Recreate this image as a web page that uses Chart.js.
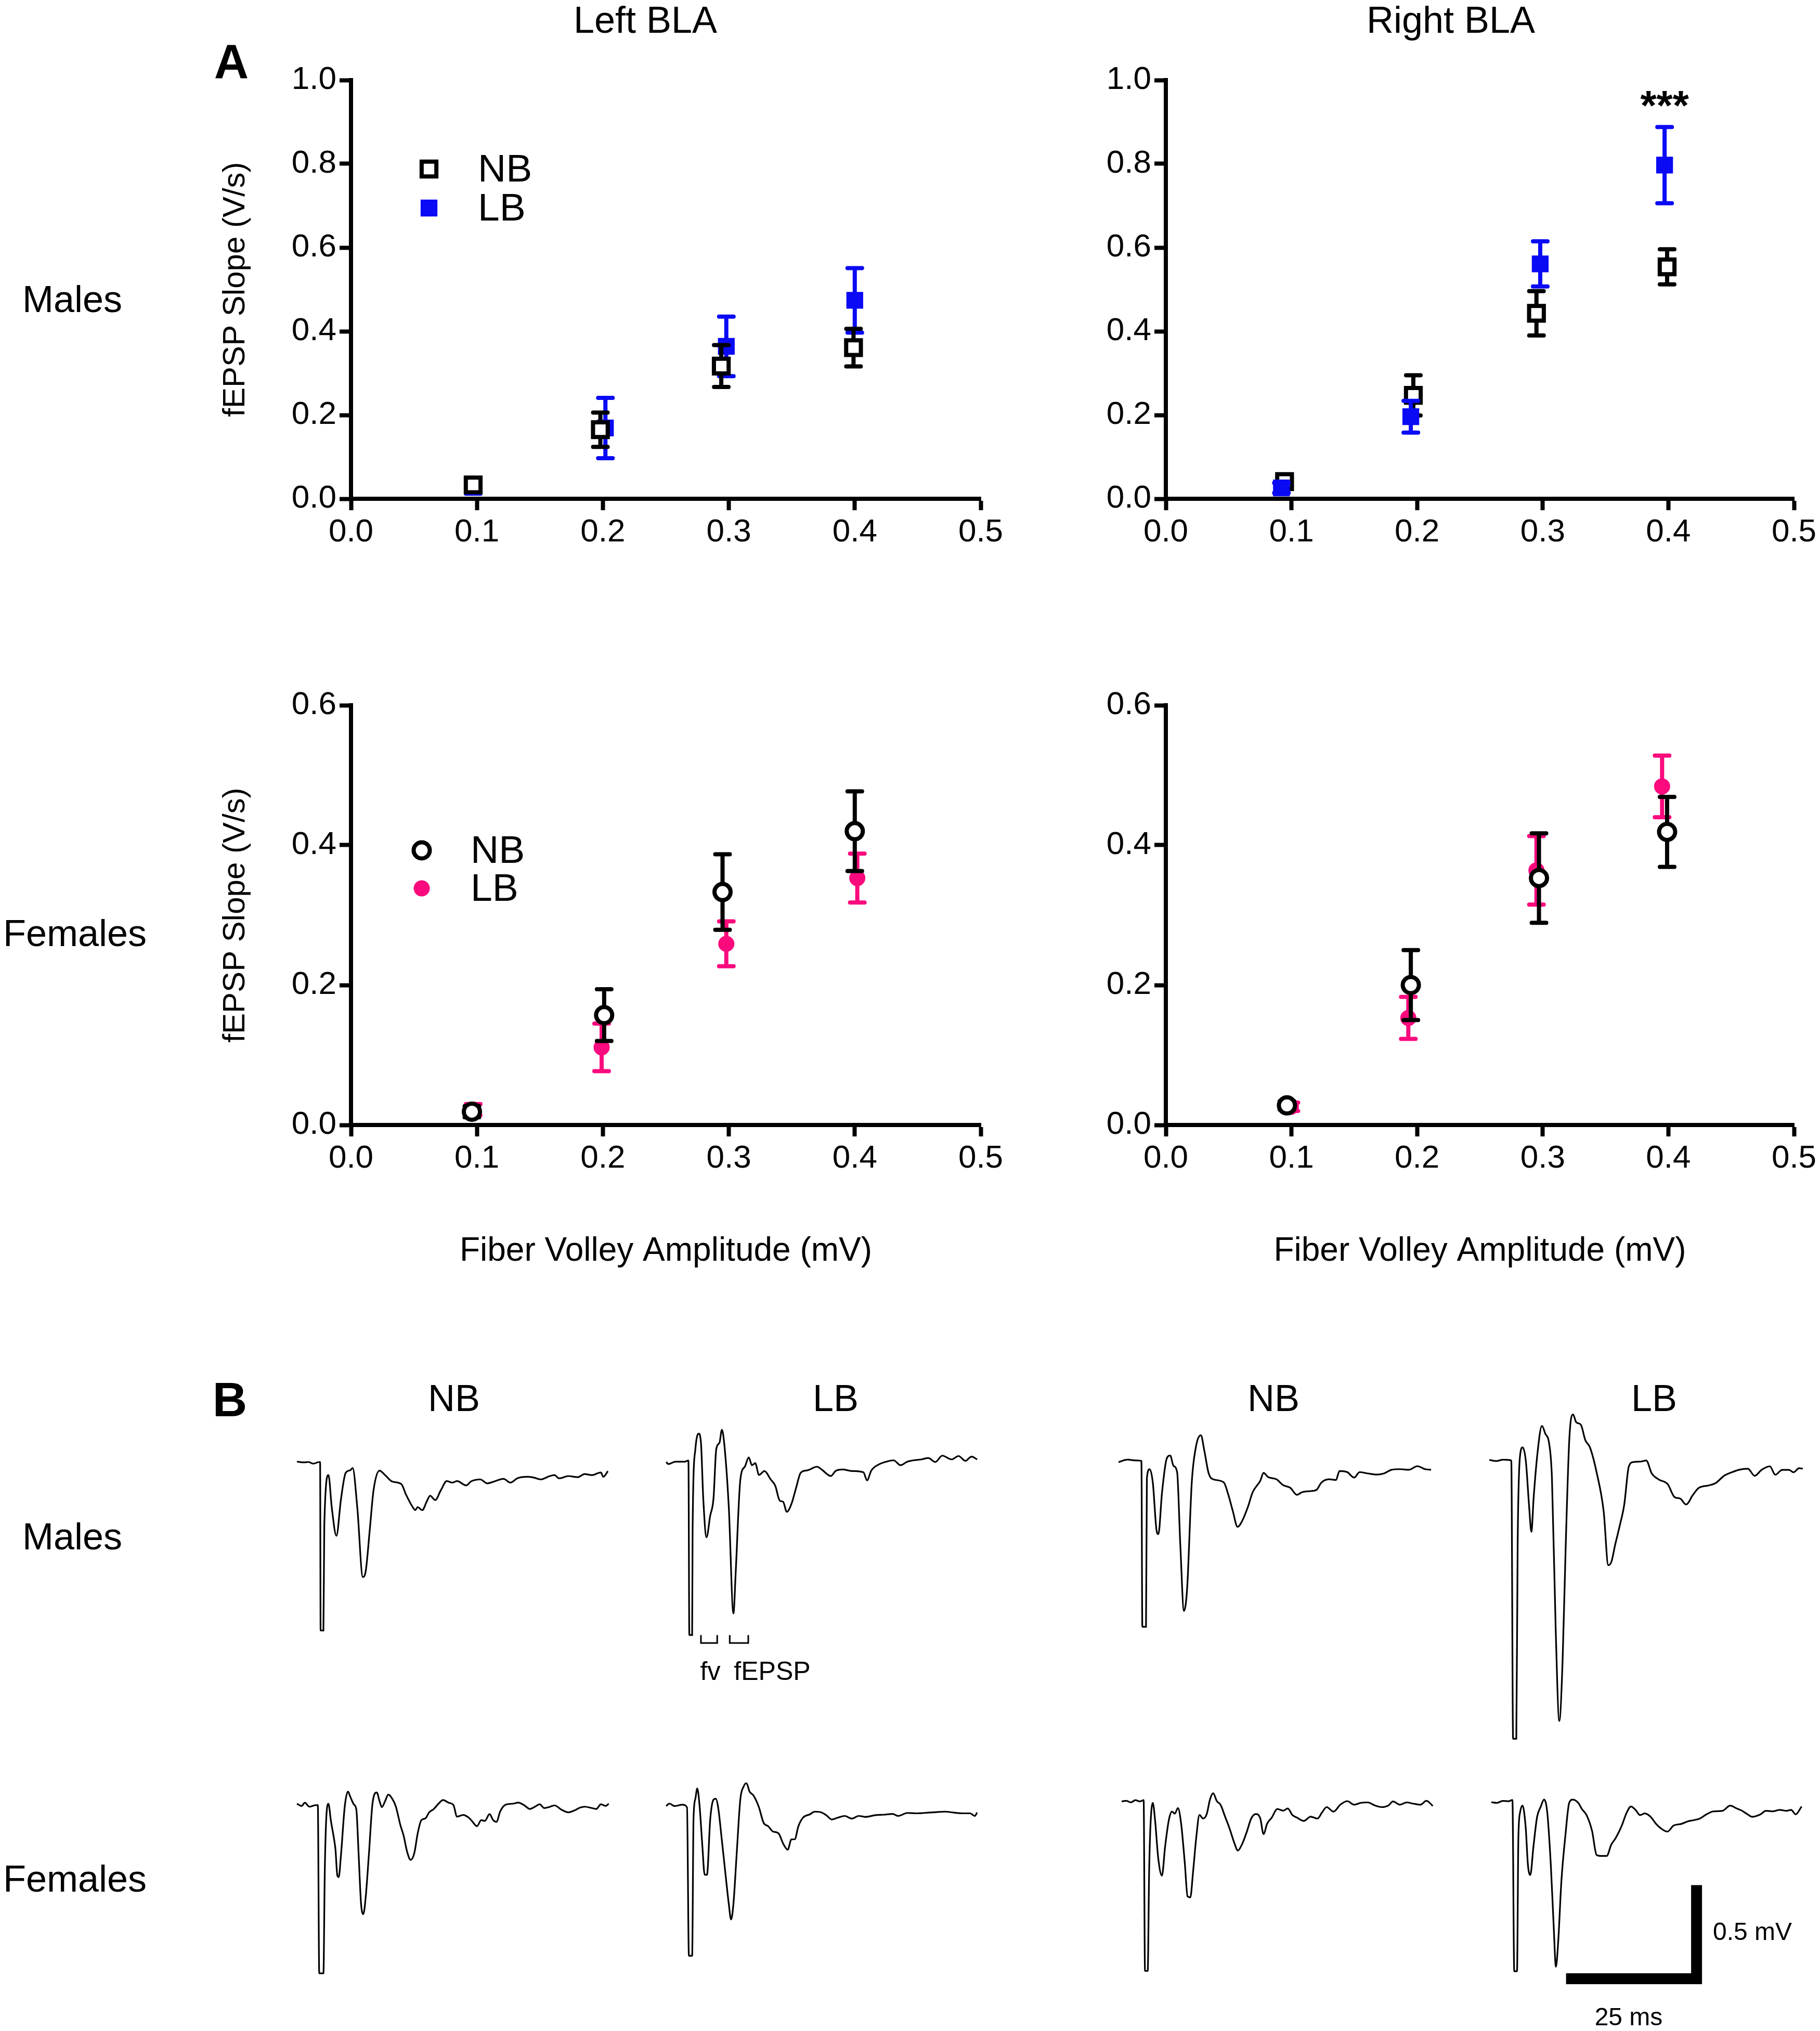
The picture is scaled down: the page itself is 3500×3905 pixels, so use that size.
<!DOCTYPE html>
<html>
<head>
<meta charset="utf-8"/>
<script src="https://cdn.jsdelivr.net/npm/chart.js@4.4.0/dist/chart.umd.min.js"></script>
<style>
  html,body{margin:0;padding:0;background:#fff;width:3500px;height:3905px;overflow:hidden;position:relative;}
  canvas{position:absolute;}
  .lbl{position:absolute;transform:translate(-50%,-50%);white-space:nowrap;color:#000;line-height:1;
       font-family:"Liberation Sans",Arial,Helvetica,sans-serif;}
</style>
</head>
<body>
<script>
const FONT  = '"Liberation Sans", Arial, Helvetica, sans-serif';
const BLUE  = '#0A0AF5';
const PINK  = '#FA0A7D';
const BLACK = '#000';

// ---- panel A : axes ----
const xTickValues   = [0, 0.1, 0.2, 0.3, 0.4, 0.5];
const yTicksMales   = [0, 0.2, 0.4, 0.6, 0.8, 1.0];
const yTicksFemales = [0, 0.2, 0.4, 0.6];

// ---- panel A : Males, Left BLA ----
const maleLeftNB_x   = [0.097, 0.198, 0.294, 0.399];
const maleLeftNB_y   = [0.033, 0.165, 0.317, 0.361];
const maleLeftNB_sem = [0.008, 0.041, 0.050, 0.045];
const maleLeftLB_x   = [0.097, 0.202, 0.298, 0.400];
const maleLeftLB_y   = [0.028, 0.169, 0.364, 0.474];
const maleLeftLB_sem = [0.016, 0.072, 0.071, 0.077];

// ---- Males, Right BLA ----
const maleRightNB_x   = [0.0945, 0.197, 0.295, 0.399];
const maleRightNB_y   = [0.041, 0.247, 0.443, 0.554];
const maleRightNB_sem = [0.010, 0.048, 0.053, 0.042];
const maleRightLB_x   = [0.092, 0.195, 0.298, 0.397];
const maleRightLB_y   = [0.026, 0.196, 0.561, 0.797];
const maleRightLB_sem = [0.012, 0.038, 0.054, 0.091];
const maleRightSig    = [{x: 0.397, y: 0.905, text: '***'}];

// ---- Females, Left BLA ----
const femLeftNB_x   = [0.096, 0.201, 0.295, 0.400];
const femLeftNB_y   = [0.019, 0.157, 0.333, 0.420];
const femLeftNB_sem = [0.008, 0.037, 0.054, 0.057];
const femLeftLB_x   = [0.097, 0.199, 0.298, 0.402];
const femLeftLB_y   = [0.022, 0.111, 0.259, 0.353];
const femLeftLB_sem = [0.008, 0.034, 0.032, 0.035];

// ---- Females, Right BLA ----
const femRightNB_x   = [0.0964, 0.195, 0.297, 0.399];
const femRightNB_y   = [0.028, 0.200, 0.353, 0.419];
const femRightNB_sem = [0.006, 0.050, 0.064, 0.050];
const femRightLB_x   = [0.0995, 0.193, 0.295, 0.395];
const femRightLB_y   = [0.026, 0.153, 0.364, 0.484];
const femRightLB_sem = [0.006, 0.030, 0.049, 0.044];

// ---- panel B : example traces, [ms, mV] relative to baseline ----
const traceMaleLeftNB = [[0,0.002],[1.33,-0.002],[2.22,0],[3.11,-0.009],[4.27,0],[4.44,0],[4.53,-0.9],[5.07,-0.9],[5.24,-0.336],[6.04,-0.07],[6.67,-0.243],[7.56,-0.394],[8.44,-0.197],[9.33,-0.058],[10.22,-0.044],[10.67,-0.032],[11.56,-0.243],[12.62,-0.614],[13.16,-0.585],[13.96,-0.359],[14.67,-0.151],[15.82,-0.046],[16.89,-0.07],[18.22,-0.104],[20.0,-0.118],[20.89,-0.174],[22.22,-0.243],[22.67,-0.257],[23.11,-0.241],[24.0,-0.257],[24.89,-0.209],[25.51,-0.18],[26.49,-0.203],[27.56,-0.151],[28.71,-0.102],[29.78,-0.11],[30.67,-0.102],[32.44,-0.125],[33.33,-0.104],[35.11,-0.093],[36.44,-0.114],[37.78,-0.104],[39.56,-0.09],[40.89,-0.11],[42.22,-0.087],[44.0,-0.079],[45.33,-0.083],[46.67,-0.093],[48.44,-0.075],[49.33,-0.07],[50.22,-0.087],[52.0,-0.075],[53.78,-0.081],[55.11,-0.064],[56.44,-0.07],[58.22,-0.056],[58.67,-0.079],[59.56,-0.049]];
const traceMaleLeftLB = [[0,0],[0.44,-0.011],[1.78,0.002],[3.56,0.002],[4.27,0.008],[4.44,-0.924],[4.98,-0.924],[5.07,-0.356],[5.6,0.069],[6.22,0.152],[6.67,0.103],[7.11,-0.195],[7.73,-0.402],[8.44,-0.287],[9.07,-0.195],[9.6,0.069],[10.22,0.103],[10.67,0.172],[11.11,0.103],[12.0,-0.241],[12.89,-0.809],[13.33,-0.586],[14.22,-0.092],[15.11,-0.023],[15.82,0.025],[16.44,-0.017],[17.07,-0.006],[17.78,-0.069],[18.84,-0.048],[20.0,-0.092],[20.89,-0.126],[21.78,-0.207],[22.4,-0.212],[23.11,-0.266],[24.0,-0.224],[24.89,-0.138],[25.78,-0.057],[27.11,-0.044],[28.89,-0.025],[29.78,-0.04],[31.56,-0.075],[32.44,-0.048],[33.78,-0.04],[35.56,-0.048],[37.78,-0.055],[38.49,-0.098],[39.29,-0.046],[40.89,-0.011],[42.22,0.002],[43.56,0.009],[44.89,-0.017],[46.22,0.002],[48.89,0.014],[50.22,0.021],[51.56,0],[52.89,0.034],[54.67,0.014],[56.0,0.032],[57.33,0.006],[58.49,0.029],[59.56,0.014]];
const traceMaleRightNB = [[0,-0.003],[1.75,0.01],[3.07,0.006],[4.38,0.003],[4.56,-0.883],[5.26,-0.883],[5.43,-0.089],[5.96,-0.041],[6.57,-0.114],[7.28,-0.368],[7.63,-0.388],[8.33,-0.165],[9.2,0.013],[9.9,0.032],[10.52,-0.023],[11.22,-0.057],[11.83,-0.445],[12.53,-0.798],[13.15,-0.673],[14.02,-0.114],[14.9,0.089],[15.78,0.14],[16.39,0.064],[17.27,-0.064],[18.14,-0.095],[20.16,-0.112],[21.03,-0.178],[21.91,-0.267],[22.79,-0.349],[23.67,-0.318],[24.8,-0.241],[25.68,-0.165],[27.17,-0.102],[27.78,-0.061],[28.65,-0.083],[30.24,-0.095],[31.56,-0.127],[32.87,-0.14],[34.18,-0.178],[35.06,-0.165],[36.38,-0.159],[37.9,-0.152],[38.82,-0.114],[40.32,-0.095],[41.63,-0.099],[42.33,-0.051],[43.82,-0.057],[45.13,-0.086],[46.18,-0.057],[47.77,-0.064],[49.52,-0.07],[50.83,-0.064],[52.32,-0.044],[53.9,-0.041],[55.65,-0.044],[57.23,-0.025],[58.72,-0.041],[59.86,-0.044]];
const traceMaleRightLB = [[0,0],[1.31,-0.006],[2.63,0.001],[4.21,-0.003],[4.56,-1.489],[5.17,-1.489],[5.43,-0.454],[5.87,0.017],[6.4,0.067],[7.01,-0.009],[7.63,-0.25],[8.06,-0.384],[8.5,-0.199],[9.2,0.029],[10.08,0.182],[10.78,0.137],[11.39,0.099],[12.0,-0.098],[12.71,-0.898],[13.41,-1.394],[14.02,-1.089],[14.64,-0.454],[15.34,0.118],[16.04,0.243],[16.65,0.201],[17.53,0.188],[18.4,0.105],[19.28,0.067],[20.6,-0.072],[21.91,-0.276],[22.79,-0.562],[23.4,-0.543],[24.1,-0.454],[24.98,-0.352],[25.85,-0.238],[26.73,-0.034],[27.61,-0.011],[28.92,-0.009],[30.06,-0.003],[31.11,-0.072],[32.43,-0.104],[34.18,-0.13],[35.5,-0.199],[36.55,-0.206],[37.69,-0.238],[39.0,-0.187],[40.14,-0.149],[42.07,-0.136],[43.38,-0.123],[44.96,-0.085],[46.46,-0.066],[47.77,-0.053],[49.52,-0.047],[50.83,-0.085],[52.15,-0.053],[53.73,-0.034],[54.78,-0.079],[56.1,-0.053],[57.41,-0.053],[58.28,-0.066],[59.34,-0.044],[60.04,-0.047]];
const traceFemLeftNB = [[0,0],[0.89,-0.012],[1.51,0.005],[2.4,-0.016],[3.29,-0.009],[4.0,-0.007],[4.27,-0.906],[5.07,-0.906],[5.33,-0.364],[5.6,-0.088],[6.04,0],[6.49,-0.088],[7.11,-0.189],[7.38,-0.244],[7.73,-0.382],[8.0,-0.392],[8.44,-0.272],[9.16,-0.014],[9.78,0.065],[10.22,0.037],[10.93,-0.005],[11.38,-0.032],[11.82,-0.272],[12.27,-0.53],[12.71,-0.59],[13.16,-0.502],[13.78,-0.272],[14.49,0.005],[15.29,0.06],[15.82,0.014],[16.27,-0.018],[16.89,0.014],[17.51,0.049],[18.22,0.028],[18.93,-0.014],[19.82,-0.115],[20.44,-0.171],[21.07,-0.253],[21.78,-0.3],[22.49,-0.263],[23.11,-0.161],[23.82,-0.088],[24.62,-0.078],[25.33,-0.046],[26.22,-0.028],[27.11,0],[28.0,0.02],[29.07,0.005],[29.96,-0.006],[30.67,-0.069],[31.82,-0.06],[32.89,-0.074],[33.51,-0.092],[34.49,-0.12],[35.29,-0.088],[36.0,-0.092],[36.89,-0.055],[37.6,-0.088],[38.22,-0.097],[38.93,-0.041],[40.0,-0.005],[41.33,0],[42.4,0.006],[43.56,-0.009],[44.62,-0.028],[45.6,-0.016],[46.49,-0.003],[47.38,-0.023],[48.27,-0.018],[49.33,-0.009],[50.67,-0.032],[52.0,-0.046],[53.07,-0.037],[54.22,-0.021],[55.11,-0.016],[56.44,-0.023],[57.33,-0.028],[58.22,-0.003],[59.11,-0.012],[59.73,0]];
const traceFemLeftLB = [[0,-0.004],[0.62,0.009],[1.6,-0.004],[3.11,0.003],[4.0,-0.011],[4.36,-0.804],[4.98,-0.804],[5.24,-0.076],[5.6,0.035],[5.96,0.09],[6.4,-0.002],[6.93,-0.214],[7.38,-0.371],[7.82,-0.371],[8.44,-0.076],[9.07,0.03],[9.51,0.035],[9.96,-0.011],[10.67,-0.186],[11.38,-0.371],[12.0,-0.527],[12.44,-0.61],[12.89,-0.527],[13.51,-0.26],[14.22,0.035],[14.84,0.1],[15.38,0.118],[16.0,0.072],[16.71,0.053],[17.78,-0.011],[18.67,-0.094],[19.56,-0.112],[20.44,-0.14],[21.51,-0.149],[22.4,-0.204],[23.29,-0.237],[24.0,-0.182],[24.62,-0.182],[25.33,-0.112],[26.22,-0.066],[27.56,-0.048],[28.44,-0.034],[29.6,-0.037],[30.67,-0.053],[31.73,-0.076],[32.89,-0.066],[34.22,-0.057],[35.56,-0.071],[36.89,-0.057],[38.22,-0.062],[40.0,-0.053],[41.78,-0.05],[43.38,-0.046],[44.44,-0.057],[46.22,-0.041],[48.0,-0.043],[49.33,-0.041],[51.56,-0.037],[53.33,-0.034],[55.11,-0.039],[56.89,-0.043],[58.22,-0.043],[59.11,-0.057],[59.56,-0.039]];
const traceFemRightNB = [[0,-0.002],[0.88,0.002],[1.75,-0.007],[2.63,0.005],[3.51,-0.002],[4.21,0.005],[4.47,-0.907],[4.99,-0.907],[5.26,-0.38],[5.52,-0.13],[5.96,-0.009],[6.4,-0.102],[7.01,-0.306],[7.71,-0.398],[8.33,-0.241],[9.03,-0.102],[9.64,-0.056],[10.17,-0.067],[10.78,-0.037],[11.39,-0.12],[12.1,-0.333],[12.62,-0.509],[13.15,-0.514],[13.67,-0.38],[14.29,-0.194],[14.9,-0.074],[15.6,-0.093],[16.3,-0.069],[16.92,0.009],[17.53,0.042],[18.23,0],[18.93,-0.019],[19.81,-0.083],[20.69,-0.148],[21.56,-0.222],[22.26,-0.264],[23.05,-0.231],[23.93,-0.167],[24.81,-0.093],[25.69,-0.069],[26.56,-0.093],[27.17,-0.176],[27.87,-0.12],[28.75,-0.088],[29.8,-0.042],[30.94,-0.051],[31.82,-0.039],[32.69,-0.074],[33.57,-0.088],[34.88,-0.106],[36.2,-0.083],[37.51,-0.093],[38.39,-0.06],[39.26,-0.032],[40.58,-0.056],[41.89,-0.019],[43.21,0],[44.53,-0.019],[45.84,-0.009],[47.15,-0.007],[48.47,-0.023],[49.78,-0.032],[51.1,-0.023],[51.97,-0.002],[53.29,-0.019],[54.6,-0.007],[55.92,-0.014],[57.23,-0.019],[58.37,0.002],[59.6,-0.026]];
const traceFemRightLB = [[0,-0.003],[1.05,-0.007],[2.19,0.004],[3.33,0.002],[4.03,0.009],[4.38,-0.906],[4.91,-0.906],[5.17,-0.193],[5.52,-0.054],[5.96,-0.021],[6.57,-0.137],[7.01,-0.341],[7.45,-0.392],[8.06,-0.239],[8.76,-0.081],[9.47,-0.026],[10.08,0.011],[10.69,-0.054],[11.39,-0.341],[11.92,-0.656],[12.36,-0.882],[12.8,-0.748],[13.41,-0.424],[14.2,-0.174],[14.9,-0.007],[15.6,0.011],[16.65,-0.007],[17.35,-0.04],[18.23,-0.072],[19.28,-0.156],[20.16,-0.285],[21.03,-0.29],[22.09,-0.29],[22.96,-0.23],[23.84,-0.193],[24.98,-0.128],[25.85,-0.063],[26.73,-0.026],[27.61,-0.044],[28.48,-0.072],[29.36,-0.063],[30.5,-0.081],[31.55,-0.119],[32.43,-0.142],[33.74,-0.16],[34.88,-0.128],[36.37,-0.119],[37.69,-0.105],[38.56,-0.1],[39.88,-0.091],[41.19,-0.068],[42.5,-0.052],[44.26,-0.049],[45.75,-0.021],[46.89,-0.035],[48.03,-0.049],[49.08,-0.068],[49.96,-0.081],[51.53,-0.068],[52.59,-0.049],[53.9,-0.052],[55.21,-0.044],[56.53,-0.049],[57.41,-0.044],[58.28,-0.068],[59.42,-0.026]];

// fv / fEPSP brackets under the male left LB trace (ms)
const fvBracket    = [6.67, 9.78];
const fepspBracket = [12.18, 15.73];
const bracketTopMv = -0.924, bracketBotMv = -0.967;
// scale bar: 25 ms x 0.5 mV, corner at (ms, mV) of the last trace
const scaleBarMs = 25, scaleBarMv = 0.5;
const scaleCorner = [39.3, -0.946];

// ---------- helpers ----------
function drawMarker(ctx, ds, x, y) {
  ctx.save();
  ctx.lineWidth = ds.pointBorderWidth;
  ctx.strokeStyle = ds.pointBorderColor;
  ctx.fillStyle = ds.pointBackgroundColor;
  ctx.beginPath();
  if (ds.pointStyle === 'rect') { const s = ds.pointRadius * Math.SQRT1_2; ctx.rect(x - s, y - s, 2 * s, 2 * s); }
  else ctx.arc(x, y, ds.pointRadius, 0, Math.PI * 2);
  ctx.fill(); ctx.stroke();
  ctx.restore();
}

const errorBars = {
  id: 'errorBars',
  beforeDatasetDraw(chart, args) {
    const ds = chart.data.datasets[args.index];
    if (!ds.sem) return;
    const xs = chart.scales.x, ys = chart.scales.y, ctx = chart.ctx;
    ctx.save();
    ctx.strokeStyle = ds.pointBorderColor;
    ctx.lineWidth = 8;
    ds.data.forEach((p, i) => {
      const px = xs.getPixelForValue(p.x);
      const hi = ys.getPixelForValue(p.y + ds.sem[i]);
      const lo = ys.getPixelForValue(p.y - ds.sem[i]);
      ctx.lineCap = 'butt';
      ctx.beginPath(); ctx.moveTo(px, hi); ctx.lineTo(px, lo); ctx.stroke();
      ctx.lineCap = 'round';
      ctx.beginPath();
      ctx.moveTo(px - 14, hi); ctx.lineTo(px + 14, hi);
      ctx.moveTo(px - 14, lo); ctx.lineTo(px + 14, lo);
      ctx.stroke();
    });
    ctx.restore();
  }
};

const markerLegend = {
  id: 'markerLegend',
  afterDraw(chart, args, opts) {
    if (!opts.rows) return;
    const ctx = chart.ctx, a = chart.chartArea;
    opts.rows.forEach((row, i) => {
      const ds = chart.data.datasets.find(d => d.label === row);
      const y = a.top + opts.firstY + i * opts.rowGap;
      drawMarker(ctx, ds, a.left + opts.markerX, y);
      ctx.save();
      ctx.fillStyle = '#000';
      ctx.font = `${opts.fontSize}px ${FONT}`;
      ctx.textAlign = 'left'; ctx.textBaseline = 'middle';
      ctx.fillText(row, a.left + opts.textX, y + 3);
      ctx.restore();
    });
  }
};

const sigMarks = {
  id: 'sigMarks',
  afterDatasetsDraw(chart, args, opts) {
    if (!opts.marks) return;
    const ctx = chart.ctx;
    opts.marks.forEach(m => {
      ctx.save();
      ctx.fillStyle = '#000';
      ctx.font = `bold 80px ${FONT}`;
      ctx.textAlign = 'center'; ctx.textBaseline = 'alphabetic';
      ctx.fillText(m.text, chart.scales.x.getPixelForValue(m.x), chart.scales.y.getPixelForValue(m.y));
      ctx.restore();
    });
  }
};

function addCanvas(left, top, w, h) {
  const c = document.createElement('canvas');
  c.width = w; c.height = h;
  c.style.left = left + 'px'; c.style.top = top + 'px';
  c.style.width = w + 'px'; c.style.height = h + 'px';
  document.body.appendChild(c);
  return c;
}

const nbSquare = {pointStyle: 'rect', pointRadius: 20, pointBorderWidth: 8, pointBorderColor: BLACK, pointBackgroundColor: '#fff'};
const lbSquare = {pointStyle: 'rect', pointRadius: 20, pointBorderWidth: 4, pointBorderColor: BLUE, pointBackgroundColor: BLUE};
const nbCircle = {pointStyle: 'circle', pointRadius: 15.5, pointBorderWidth: 8, pointBorderColor: BLACK, pointBackgroundColor: '#fff'};
const lbCircle = {pointStyle: 'circle', pointRadius: 14.5, pointBorderWidth: 2, pointBorderColor: PINK, pointBackgroundColor: PINK};

function series(label, xs, ys, sem, style) {
  return Object.assign({label, data: xs.map((x, i) => ({x, y: ys[i]})), sem, showLine: false,
    pointHoverRadius: style.pointRadius}, style);
}

function scatterPanel(box, datasets, yTicks, opt) {
  const c = addCanvas(box.left, box.top, box.w, box.h);
  const yMax = yTicks[yTicks.length - 1];
  new Chart(c, {
    type: 'scatter',
    data: {datasets},
    options: {
      responsive: false, animation: false, events: [],
      layout: {padding: {left: 0, top: box.padTop, right: box.padRight, bottom: box.padBottom}},
      plugins: {
        legend: {display: false}, tooltip: {enabled: false},
        markerLegend: opt.legend || {},
        sigMarks: {marks: opt.sig}
      },
      scales: {
        x: {
          type: 'linear', min: 0, max: 0.5,
          afterBuildTicks: s => { s.ticks = xTickValues.map(v => ({value: v})); },
          afterFit: s => { s.height = box.xH; },
          grid: {display: true, drawOnChartArea: false, drawTicks: true, tickLength: 22, tickWidth: 8, tickColor: BLACK},
          border: {display: true, width: 8, color: BLACK},
          ticks: {color: BLACK, font: {family: FONT, size: 62}, padding: 6, maxRotation: 0, autoSkip: false,
                  callback: v => Number(v).toFixed(1)},
          title: {display: !!opt.xTitle, text: 'Fiber Volley Amplitude (mV)', color: BLACK,
                  font: {family: FONT, size: 64}, padding: {top: 0, bottom: 10}}
        },
        y: {
          type: 'linear', min: 0, max: yMax,
          afterBuildTicks: s => { s.ticks = yTicks.map(v => ({value: v})); },
          afterFit: s => { s.width = box.yW; },
          grid: {display: true, drawOnChartArea: false, drawTicks: true, tickLength: 22, tickWidth: 8, tickColor: BLACK},
          border: {display: true, width: 8, color: BLACK},
          ticks: {color: BLACK, font: {family: FONT, size: 62}, padding: 6, autoSkip: false,
                  callback: v => Number(v).toFixed(1)},
          title: {display: !!opt.yTitle, text: 'fEPSP Slope (V/s)', color: BLACK,
                  font: {family: FONT, size: 60}, padding: {top: 37, bottom: 0}}
        }
      }
    },
    plugins: [errorBars, markerLegend, sigMarks]
  });
}

// ---------- panel A ----------
const boxTL = {left: 380,  top: 100,  w: 1560, h: 980,  yW: 295, padTop: 54, padRight: 54, xH: 100, padBottom: 21};
const boxTR = {left: 2080, top: 100,  w: 1420, h: 980,  yW: 162, padTop: 54, padRight: 50, xH: 100, padBottom: 21};
const boxBL = {left: 380,  top: 1300, w: 1560, h: 1180, yW: 295, padTop: 56, padRight: 54, xH: 292, padBottom: 25};
const boxBR = {left: 2080, top: 1300, w: 1420, h: 1180, yW: 162, padTop: 56, padRight: 50, xH: 292, padBottom: 25};

scatterPanel(boxTL, [
  series('NB', maleLeftNB_x, maleLeftNB_y, maleLeftNB_sem, nbSquare),
  series('LB', maleLeftLB_x, maleLeftLB_y, maleLeftLB_sem, lbSquare)
], yTicksMales, {yTitle: true, legend: {rows: ['NB', 'LB'], markerX: 150, textX: 244, firstY: 171, rowGap: 75, fontSize: 75}});

scatterPanel(boxTR, [
  series('LB', maleRightLB_x, maleRightLB_y, maleRightLB_sem, lbSquare),
  series('NB', maleRightNB_x, maleRightNB_y, maleRightNB_sem, nbSquare)
], yTicksMales, {sig: maleRightSig});

scatterPanel(boxBL, [
  series('NB', femLeftNB_x, femLeftNB_y, femLeftNB_sem, nbCircle),
  series('LB', femLeftLB_x, femLeftLB_y, femLeftLB_sem, lbCircle)
], yTicksFemales, {yTitle: true, xTitle: true, legend: {rows: ['NB', 'LB'], markerX: 136, textX: 230, firstY: 279, rowGap: 73, fontSize: 75}});

scatterPanel(boxBR, [
  series('NB', femRightNB_x, femRightNB_y, femRightNB_sem, nbCircle),
  series('LB', femRightLB_x, femRightLB_y, femRightLB_sem, lbCircle)
], yTicksFemales, {xTitle: true});

// ---------- panel B ----------
const PX_PER_MS = 10.04, PX_PER_MV = 360;
const T_MIN = -1, V_MAX = 0.35, TRACE_W = 633, TRACE_H = 702;

function tracePanel(startX, baseY, pts, extra) {
  const c = addCanvas(Math.round(startX + T_MIN * PX_PER_MS), Math.round(baseY - V_MAX * PX_PER_MV), TRACE_W, TRACE_H);
  const datasets = [{
    data: pts.map(([x, y]) => ({x, y})), borderColor: BLACK, borderWidth: 3.2,
    pointRadius: 0, cubicInterpolationMode: 'monotone', fill: false
  }].concat(extra || []);
  new Chart(c, {
    type: 'line',
    data: {datasets},
    options: {
      responsive: false, animation: false, events: [],
      layout: {padding: 0},
      plugins: {legend: {display: false}, tooltip: {enabled: false}},
      scales: {
        x: {type: 'linear', display: false, min: T_MIN, max: T_MIN + TRACE_W / PX_PER_MS},
        y: {type: 'linear', display: false, min: V_MAX - TRACE_H / PX_PER_MV, max: V_MAX}
      }
    }
  });
}

function bracket(range) {
  return {data: [{x: range[0], y: bracketTopMv}, {x: range[0], y: bracketBotMv},
                 {x: range[1], y: bracketBotMv}, {x: range[1], y: bracketTopMv}],
          borderColor: BLACK, borderWidth: 3, pointRadius: 0, tension: 0};
}
const scaleBar = {
  data: [{x: scaleCorner[0] - scaleBarMs, y: scaleCorner[1]}, {x: scaleCorner[0], y: scaleCorner[1]},
         {x: scaleCorner[0], y: scaleCorner[1] + scaleBarMv}],
  borderColor: BLACK, borderWidth: 21, pointRadius: 0, tension: 0,
  borderJoinStyle: 'miter', borderCapStyle: 'butt'
};

tracePanel(571,  2811, traceMaleLeftNB);
tracePanel(1281, 2811, traceMaleLeftLB, [bracket(fvBracket), bracket(fepspBracket)]);
tracePanel(2151, 2810, traceMaleRightNB);
tracePanel(2864, 2807, traceMaleRightLB);
tracePanel(571,  3468, traceFemLeftNB);
tracePanel(1281, 3471, traceFemLeftLB);
tracePanel(2157, 3463, traceFemRightNB);
tracePanel(2868, 3464, traceFemRightLB, [scaleBar]);

// ---------- text labels ----------
const labels = [
  ['Left BLA', 1241, 38, 72], ['Right BLA', 2790, 38, 72],
  ['A', 445, 118, 92, true], ['B', 442, 2691, 92, true],
  ['Males', 139, 575, 72], ['Females', 144, 1794, 72],
  ['NB', 873, 2688, 72], ['LB', 1607, 2688, 72], ['NB', 2449, 2688, 72], ['LB', 3181, 2688, 72],
  ['Males', 139, 2954, 72], ['Females', 144, 3612, 72],
  ['fv', 1366, 3213, 50], ['fEPSP', 1485, 3213, 50],
  ['0.5 mV', 3370, 3714, 48], ['25 ms', 3132, 3878, 48]
];
labels.forEach(([t, x, y, s, b]) => {
  const d = document.createElement('div');
  d.className = 'lbl';
  d.textContent = t;
  d.style.left = x + 'px'; d.style.top = y + 'px';
  d.style.fontSize = s + 'px';
  if (b) d.style.fontWeight = 'bold';
  document.body.appendChild(d);
});
</script>
</body>
</html>
